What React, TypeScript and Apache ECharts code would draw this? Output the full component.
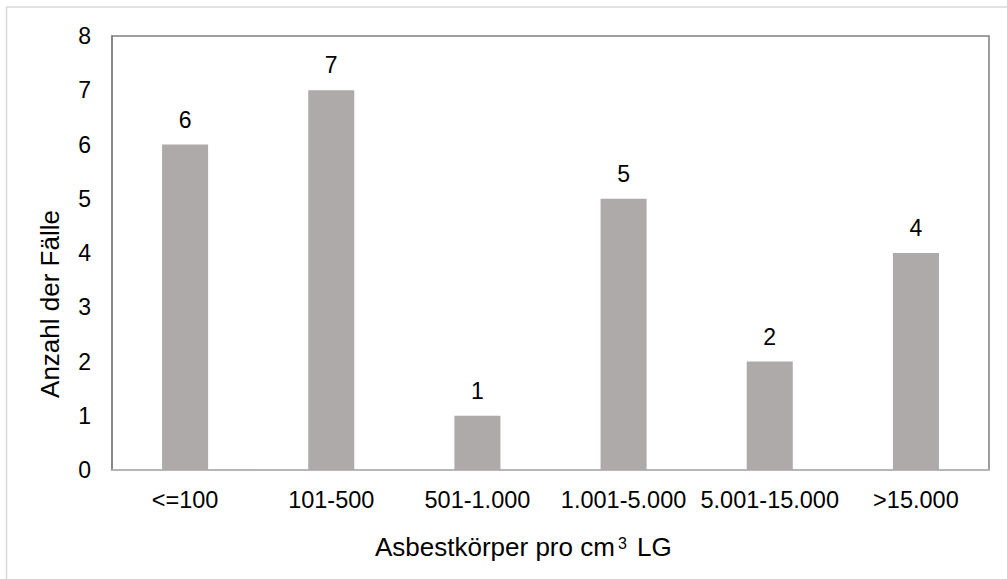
import React, { useEffect, useRef } from "react";
import * as echarts from "echarts";

const categories = ["<=100", "101-500", "501-1.000", "1.001-5.000", "5.001-15.000", ">15.000"];
const cases = [6, 7, 1, 5, 2, 4];
const yTicks = [0, 1, 2, 3, 4, 5, 6, 7, 8];
const yTitle = "Anzahl der Fälle";
const xTitleMain = "Asbestkörper pro cm";
const xTitleSup = "3";
const xTitleTail = "LG";

const FONT = "Liberation Sans, Arial, sans-serif";

export default function App() {
  const ref = useRef<HTMLDivElement>(null);

  useEffect(() => {
    if (!ref.current) return;
    const chart = echarts.init(ref.current, undefined, { renderer: "svg" });
    chart.setOption({
      animation: false,
      backgroundColor: "#ffffff",
      textStyle: { fontFamily: FONT },
      graphic: [
        {
          type: "rect",
          shape: { x: 6.5, y: 7, width: 1010, height: 590 },
          style: { fill: "none", stroke: "#d9d9d9", lineWidth: 1.5 },
          z: -10,
        },
        {
          type: "text",
          x: 49.5,
          y: 304,
          rotation: Math.PI / 2,
          style: {
            text: yTitle,
            fontSize: 26,
            fontFamily: FONT,
            fill: "#000",
            align: "center",
            verticalAlign: "middle",
          },
        },
        {
          type: "text",
          x: 375,
          y: 547,
          style: {
            text: xTitleMain,
            fontSize: 26,
            fontFamily: FONT,
            fill: "#000",
            align: "left",
            verticalAlign: "middle",
          },
        },
        {
          type: "text",
          x: 618,
          y: 543,
          style: {
            text: xTitleSup,
            fontSize: 16,
            fontFamily: FONT,
            fill: "#000",
            align: "left",
            verticalAlign: "middle",
          },
        },
        {
          type: "text",
          x: 637,
          y: 547,
          style: {
            text: xTitleTail,
            fontSize: 26,
            fontFamily: FONT,
            fill: "#000",
            align: "left",
            verticalAlign: "middle",
          },
        },
      ],
      grid: {
        left: 112,
        right: 18,
        top: 36,
        bottom: 109,
        show: true,
        borderColor: "#7f7f7f",
        borderWidth: 1.5,
        backgroundColor: "transparent",
      },
      xAxis: {
        type: "category",
        data: categories,
        axisLine: { show: true, lineStyle: { color: "#bfbfbf", width: 1.5 } },
        axisTick: { show: false },
        axisLabel: { color: "#000", fontSize: 23.5, fontFamily: FONT, margin: 18, interval: 0 },
      },
      yAxis: {
        type: "value",
        min: yTicks[0],
        max: yTicks[yTicks.length - 1],
        interval: 1,
        axisLine: { show: true, lineStyle: { color: "#7f7f7f", width: 1.5 } },
        axisTick: { show: false },
        splitLine: { show: false },
        axisLabel: { color: "#000", fontSize: 23, fontFamily: FONT, margin: 21 },
      },
      series: [
        {
          type: "bar",
          data: cases,
          barWidth: "31.5%",
          itemStyle: { color: "#aeaaaa" },
          label: {
            show: true,
            position: "top",
            distance: 13.5,
            color: "#000",
            fontSize: 23,
            fontFamily: FONT,
          },
        },
      ],
    });
    return () => chart.dispose();
  }, []);

  return (
    <div
      ref={ref}
      style={{ position: "absolute", left: 0, top: 0, width: 1007, height: 579 }}
    />
  );
}
